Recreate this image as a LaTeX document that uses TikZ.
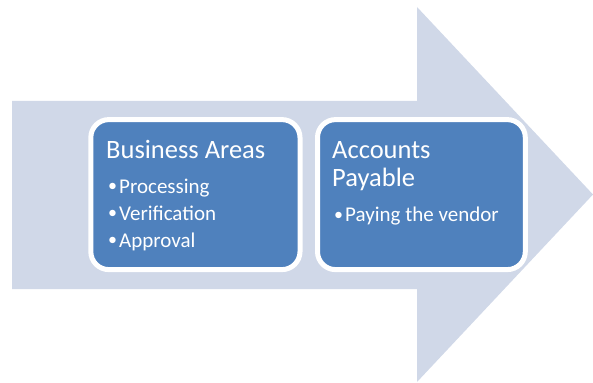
\documentclass[tikz,border=0pt]{standalone}
\usepackage{fontspec}
\setmainfont{Carlito}
\definecolor{arrowfill}{HTML}{D0D8E8}
\definecolor{boxfill}{HTML}{4F81BD}
\newcommand{\bul}{\makebox[12pt][l]{\hspace{1pt}\raisebox{1.5pt}{\fontsize{18}{18}\selectfont •}}}
\begin{document}
\begin{tikzpicture}[x=1pt,y=-1pt,
  box/.style={draw=white, line width=5pt, fill=boxfill, rounded corners=18pt, inner sep=0pt},
  title/.style={anchor=base west, inner sep=0pt, text=white, font=\fontsize{26.5}{30}\selectfont},
  item/.style={anchor=base west, inner sep=0pt, text=white, font=\fontsize{21}{25}\selectfont}]
\useasboundingbox (0,0) rectangle (593,382);
\fill[arrowfill] (12,101) -- (417,101) -- (417,7) -- (593,194.5) -- (417,382) -- (417,289) -- (12,289) -- cycle;
\node[box, minimum width=209.2pt, minimum height=150pt] (b1) at (195.4,194.6) {};
\node[box, minimum width=207.8pt, minimum height=150pt] (b2) at (421.4,194.6) {};
\node[title] (t1) at (106,158) {Business Areas};
\node[item] (i1) at (107,193) {\bul Processing};
\node[item] (i2) at (107,220) {\bul Verification};
\node[item] (i3) at (107,247) {\bul Approval};
\node[title] (t2) at (332,158) {Accounts};
\node[title] (t3) at (332,186) {Payable};
\node[item] (i4) at (333,221.5) {\bul Paying the vendor};
\end{tikzpicture}
\end{document}
